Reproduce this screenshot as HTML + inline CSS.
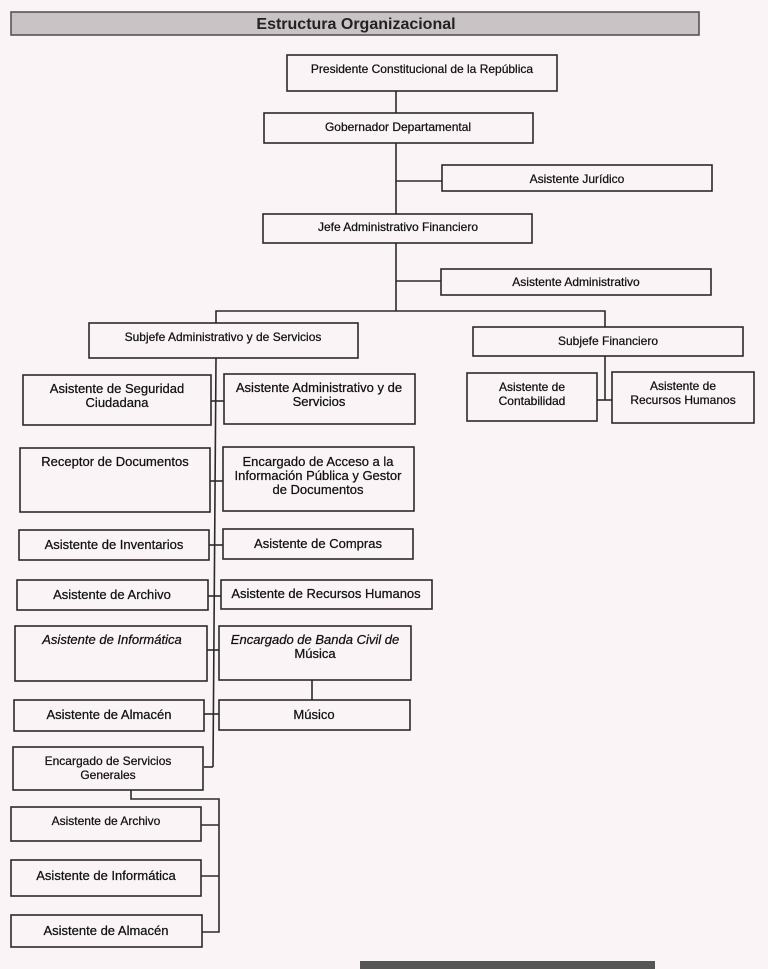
<!DOCTYPE html>
<html><head><meta charset="utf-8"><style>
html,body{margin:0;padding:0;background:#fbf4f6;}
svg{display:block;}
text{font-family:"Liberation Sans",Arial,sans-serif;font-size:12px;fill:#111;stroke:#111;stroke-width:0.25;text-anchor:middle;}
rect{fill:none;stroke:#2a2a2a;stroke-width:1.6;}
line,polyline{stroke:#2a2a2a;stroke-width:1.6;fill:none;}
.b{font-size:13px;}
</style></head><body>
<svg width="768" height="969" viewBox="0 0 768 969" xmlns="http://www.w3.org/2000/svg">
<rect x="11" y="12" width="688" height="23" style="fill:#c9c3c5;stroke:#555"/>
<text x="356" y="29" style="font-size:16px;font-weight:bold;fill:#222;stroke:none">Estructura Organizacional</text>

<line x1="396" y1="91" x2="396" y2="113"/>
<line x1="396" y1="143" x2="396" y2="214"/>
<line x1="396" y1="181" x2="442" y2="181"/>
<line x1="396" y1="243" x2="396" y2="311"/>
<line x1="396" y1="281" x2="441" y2="281"/>
<polyline points="216,323 216,311 605,311 605,327"/>

<rect x="287" y="55" width="270" height="36"/>
<text x="422" y="73">Presidente Constitucional de la República</text>
<rect x="264" y="113" width="269" height="30"/>
<text x="398" y="131">Gobernador Departamental</text>
<rect x="442" y="165" width="270" height="26"/>
<text x="577" y="183">Asistente Jurídico</text>
<rect x="263" y="214" width="269" height="29"/>
<text x="398" y="231">Jefe Administrativo Financiero</text>
<rect x="441" y="269" width="270" height="26"/>
<text x="576" y="286">Asistente Administrativo</text>
<rect x="89" y="323" width="269" height="35"/>
<text x="223" y="341">Subjefe Administrativo y de Servicios</text>
<rect x="473" y="327" width="270" height="29"/>
<text x="608" y="345">Subjefe Financiero</text>

<line x1="605" y1="356" x2="605" y2="400"/>
<line x1="597" y1="400" x2="612" y2="400"/>
<rect x="467" y="373" width="130" height="48"/>
<text x="532" y="391">Asistente de</text><text x="532" y="405">Contabilidad</text>
<rect x="612" y="372" width="142" height="51"/>
<text x="683" y="390">Asistente de</text><text x="683" y="404">Recursos Humanos</text>

<line x1="216" y1="358" x2="213" y2="767"/>
<line x1="204" y1="767" x2="213" y2="767"/>
<line x1="211" y1="401" x2="224" y2="401"/>
<line x1="210" y1="481" x2="223" y2="481"/>
<line x1="209" y1="545" x2="223" y2="545"/>
<line x1="208" y1="596" x2="221" y2="596"/>
<line x1="207" y1="650" x2="219" y2="650"/>
<line x1="204" y1="714" x2="219" y2="714"/>
<line x1="312" y1="680" x2="312" y2="700"/>

<rect x="23" y="375" width="188" height="50"/>
<text class="b" x="117" y="393">Asistente de Seguridad</text><text class="b" x="117" y="407">Ciudadana</text>
<rect x="224" y="374" width="191" height="50"/>
<text class="b" x="319" y="392">Asistente Administrativo y de</text><text class="b" x="319" y="406">Servicios</text>
<rect x="20" y="448" width="190" height="64"/>
<text class="b" x="115" y="466">Receptor de Documentos</text>
<rect x="223" y="447" width="191" height="64"/>
<text class="b" x="318" y="466">Encargado de Acceso a la</text><text class="b" x="318" y="480">Información Pública y Gestor</text><text class="b" x="318" y="494">de Documentos</text>
<rect x="19" y="530" width="190" height="30"/>
<text class="b" x="114" y="549">Asistente de Inventarios</text>
<rect x="223" y="529" width="190" height="30"/>
<text class="b" x="318" y="548">Asistente de Compras</text>
<rect x="17" y="580" width="191" height="30"/>
<text class="b" x="112" y="599">Asistente de Archivo</text>
<rect x="221" y="580" width="211" height="29"/>
<text class="b" x="326" y="598">Asistente de Recursos Humanos</text>
<rect x="15" y="626" width="192" height="55"/>
<text class="b" x="112" y="644" style="font-style:italic">Asistente de Informática</text>
<rect x="219" y="626" width="192" height="54"/>
<text class="b" x="315" y="644" style="font-style:italic">Encargado de Banda Civil de</text><text class="b" x="315" y="658">Música</text>
<rect x="14" y="700" width="190" height="31"/>
<text class="b" x="109" y="719">Asistente de Almacén</text>
<rect x="219" y="700" width="191" height="30"/>
<text class="b" x="314" y="719">Músico</text>

<rect x="13" y="747" width="190" height="43"/>
<text x="108" y="765">Encargado de Servicios</text><text x="108" y="779">Generales</text>
<polyline points="131,790 131,799 219,799 219,932 202,932"/>
<line x1="201" y1="825" x2="219" y2="825"/>
<line x1="201" y1="876" x2="219" y2="876"/>
<rect x="11" y="807" width="190" height="34"/>
<text x="106" y="825">Asistente de Archivo</text>
<rect x="11" y="860" width="190" height="36"/>
<text x="106" y="880" style="font-size:13px">Asistente de Informática</text>
<rect x="11" y="915" width="191" height="32"/>
<text x="106" y="935" style="font-size:13px">Asistente de Almacén</text>

<rect x="360" y="961" width="295" height="10" style="fill:#555;stroke:none"/>
</svg>
</body></html>
